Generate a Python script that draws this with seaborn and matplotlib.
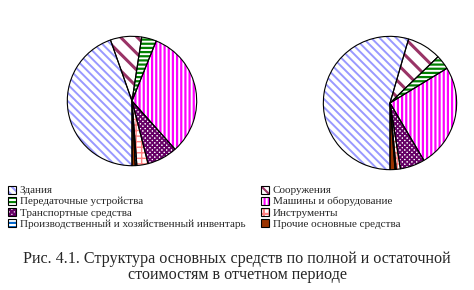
import matplotlib
matplotlib.use("Agg")
import matplotlib.pyplot as plt
import seaborn as sns
from matplotlib.patches import Patch

sns.set_theme(style="white")
plt.rcParams['font.family'] = ['Liberation Serif', 'DejaVu Serif']
plt.rcParams['hatch.linewidth'] = 1.5

categories = ['Здания', 'Сооружения', 'Передаточные устройства', 'Машины и оборудование',
              'Транспортные средства', 'Инструменты',
              'Производственный и хозяйственный инвентарь', 'Прочие основные средства']
full_cost = [44.6, 7.8, 3.7, 32.3, 7.6, 2.8, 0.4, 0.8]
residual_cost = [54.5, 8.3, 3.5, 25.2, 6.0, 1.0, 0.3, 1.2]
caption = "Рис. 4.1. Структура основных средств по полной и остаточной\nстоимостям в отчетном периоде"

colors = ['#9999FF', '#993366', '#008000', '#FF00FF', '#660066', '#FF8080', '#0066CC', '#993300']
hatches = ['\\\\\\\\', '\\\\', '----', '||||', 'xxxxxxx', '+++', '----', None]
legend_hatches = ['\\\\\\\\', '\\\\\\\\', '----', '||||', 'xxxxxxx', '+++', '----', None]
hatch_lw = [1.4, 2.2, 1.6, 1.6, 1.3, 1.0, 1.2, 1.0]

fig = plt.figure(figsize=(4.74, 2.90), dpi=100)
fig.patch.set_facecolor('white')

W, H = 474, 290
def axes_at(cx, cy, r):
    return fig.add_axes([(cx - r) / W, 1 - (cy + r) / H, 2 * r / W, 2 * r / H])

def style_patch(p, i, hset):
    if hset[i] is None:
        p.set_facecolor(colors[i])
        p.set_edgecolor(colors[i])
    else:
        p.set_facecolor('white')
        p.set_edgecolor(colors[i])
        p.set_hatch(hset[i])
        if hasattr(p, 'set_hatch_linewidth'):
            p.set_hatch_linewidth(hatch_lw[i])
    p.set_linewidth(0)

def draw_pie(ax, vals):
    wedges, _ = ax.pie(vals, startangle=-90, counterclock=False, radius=1)
    for i, w in enumerate(wedges):
        style_patch(w, i, hatches)
    ax.pie(vals, startangle=-90, counterclock=False, radius=1,
           wedgeprops=dict(facecolor='none', edgecolor='black', linewidth=0.8))
    ax.set_xlim(-1.02, 1.02)
    ax.set_ylim(-1.02, 1.02)
    ax.set_aspect('equal')
    ax.axis('off')

ax1 = axes_at(132, 101, 66)
draw_pie(ax1, full_cost)
ax2 = axes_at(390, 103, 68)
draw_pie(ax2, residual_cost)

def handle(i):
    p = Patch()
    style_patch(p, i, legend_hatches)
    return (p, Patch(facecolor='none', edgecolor='black', linewidth=0.8))

for col, x in [(0, 8 / W), (1, 261 / W)]:
    idx = [col, col + 2, col + 4, col + 6]
    fig.legend([handle(i) for i in idx], [categories[i] for i in idx],
               loc='upper left', bbox_to_anchor=(x, 1 - 185.5 / H), frameon=False,
               fontsize=8, handlelength=0.75, handleheight=0.75, handletextpad=0.3,
               labelspacing=0.1, borderpad=0, borderaxespad=0)

fig.text(0.5, 1 - 267 / H, caption, ha='center', va='center', fontsize=11.6, linespacing=1.05)

fig.savefig('out.png', dpi=100, facecolor='white')
